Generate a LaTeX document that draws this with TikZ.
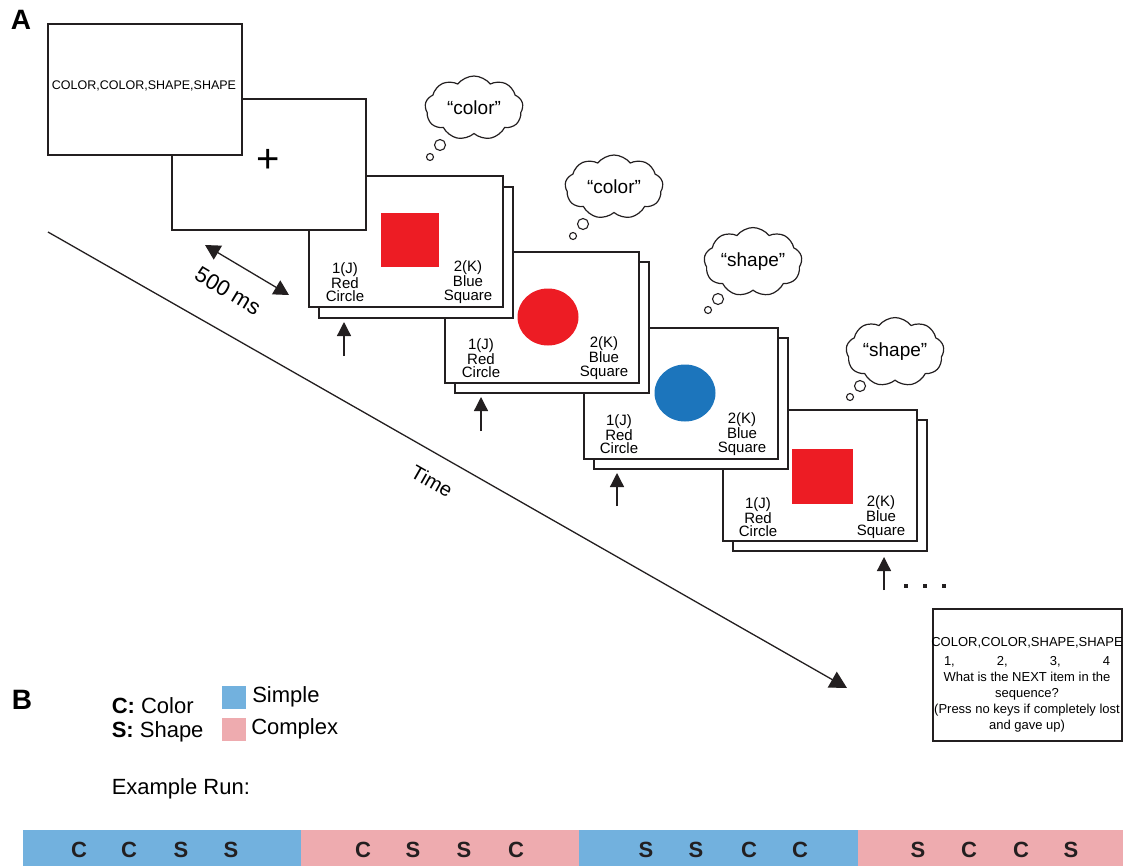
\documentclass[tikz,border=0pt]{standalone}
\usepackage{fontspec}
\setmainfont{Liberation Sans}
\usetikzlibrary{arrows.meta,shapes.symbols,shapes.geometric,positioning}

\definecolor{inkgray}{RGB}{35,31,32}
\definecolor{stimred}{RGB}{237,28,36}
\definecolor{stimblue}{RGB}{28,117,188}
\definecolor{simpleblue}{RGB}{114,177,222}
\definecolor{complexpink}{RGB}{238,171,175}

\newcommand{\keyfont}{\fontsize{15}{13.5}\selectfont}
\newcommand{\legfont}{\fontsize{22}{23}\selectfont}

\tikzset{every picture/.style={line width=1.5pt}}
\tikzset{
  screen/.style={draw=inkgray, fill=white, anchor=north west, minimum width=194, minimum height=131, inner sep=0pt},
  keylab/.style={align=center, font=\keyfont, inner sep=0pt},
  thought/.style={cloud, draw=inkgray, fill=white, line width=1.2pt, cloud puffs=9, cloud puff arc=105, aspect=1.6, minimum width=98, minimum height=64, inner sep=0pt, font=\fontsize{19}{19}\selectfont},
  bubble/.style={circle, draw=inkgray, line width=1.1pt, inner sep=0pt},
  resp/.style={draw=inkgray, line width=1.3pt, -{Triangle[width=14pt,length=14pt]}},
  runletter/.style={font=\fontsize{22}{22}\selectfont\bfseries, text=inkgray, inner sep=0pt},
}

\begin{document}
\begin{tikzpicture}[x=1pt,y=1pt,yscale=-1,xscale=1]
    \useasboundingbox (0,0) rectangle (1123,865);

    % Panel labels
    \node[font=\fontsize{28}{28}\selectfont\bfseries, inner sep=0pt] (labA) at (21,20) {A};
    \node[font=\fontsize{28}{28}\selectfont\bfseries, inner sep=0pt] (labB) at (22,700) {B};

    %Straight Lines: time axis
    \coordinate (time0) at (48,232);
    \coordinate (time1) at (847,688);
    \draw[inkgray, line width=1.3pt, -{Triangle[width=18pt,length=17pt]}] (time0) -- (time1);
    % Text Node
    \node[rotate=-29.7, font=\fontsize{20}{20}\selectfont, inner sep=0pt] (timelab) at (432,481) {Time};

    %Straight Lines: 500 ms interval
    \coordinate (delay0) at (205,245);
    \coordinate (delay1) at (289,295);
    \draw[inkgray, line width=1.3pt, {Triangle[width=16pt,length=15pt]}-{Triangle[width=16pt,length=15pt]}] (delay0) -- (delay1);
    % Text Node
    \node[rotate=-31, font=\fontsize{22}{22}\selectfont, inner sep=0pt] (delaylab) at (228,291) {500 ms};

    %Shape: Rectangle final question screen
    \node[screen, minimum width=189, minimum height=132] (quiz) at (932,608) {};
    % Text Node
    \node[align=center, font=\fontsize{13}{16}\selectfont, inner sep=0pt] (quiztxt) at (1027,685) {COLOR,COLOR,SHAPE,SHAPE\\[3pt]\makebox[166pt]{1,\hfill 2,\hfill 3,\hfill 4}\\What is the NEXT item in the\\sequence?\\(Press no keys if completely lost\\and gave up)};

    %Shape: Screen 6 (red square)
    \node[screen] (s6back) at (732,419) {};
    \node[screen] (s6) at (722,409) {};
    \node[fill=stimred, minimum width=61, minimum height=55, inner sep=0pt] (stim6) at (822,476) {};
    \node[keylab] (j6) at (758,517) {1(J)\\Red\\Circle};
    \node[keylab] (k6) at (881,517) {2(K)\\Blue\\Square};

    %Shape: Screen 5 (blue circle)
    \node[screen] (s5back) at (593,337) {};
    \node[screen] (s5) at (583,327) {};
    \node[ellipse, fill=stimblue, minimum width=61, minimum height=57, inner sep=0pt] (stim5) at (685,393) {};
    \node[keylab] (j5) at (619,434) {1(J)\\Red\\Circle};
    \node[keylab] (k5) at (742,434) {2(K)\\Blue\\Square};

    %Shape: Screen 4 (red circle)
    \node[screen] (s4back) at (454,261) {};
    \node[screen] (s4) at (444,251) {};
    \node[ellipse, fill=stimred, minimum width=61, minimum height=57, inner sep=0pt] (stim4) at (548,317) {};
    \node[keylab] (j4) at (481,358) {1(J)\\Red\\Circle};
    \node[keylab] (k4) at (604,358) {2(K)\\Blue\\Square};

    %Shape: Screen 3 (red square)
    \node[screen] (s3back) at (318,186) {};
    \node[screen] (s3) at (308,175) {};
    \node[fill=stimred, minimum width=58, minimum height=54, inner sep=0pt] (stim3) at (410,240) {};
    \node[keylab] (j3) at (345,282) {1(J)\\Red\\Circle};
    \node[keylab] (k3) at (468,282) {2(K)\\Blue\\Square};

    %Shape: Screen 2 (fixation)
    \node[screen] (s2) at (171,98) {};
    \node[font=\fontsize{40}{40}\selectfont, inner sep=0pt] (fix) at (268,161) {+};

    %Shape: Screen 1 (instruction)
    \node[screen] (s1) at (47,23) {};
    \node[font=\fontsize{12.5}{12.5}\selectfont, inner sep=0pt] (instr) at (144,86) {COLOR,COLOR,SHAPE,SHAPE};

    %Straight Lines: responses
    \coordinate (resp3a) at (344,356);
    \coordinate (resp3b) at (344,322);
    \draw[resp] (resp3a) -- (resp3b);
    \coordinate (resp4a) at (481,431);
    \coordinate (resp4b) at (481,397);
    \draw[resp] (resp4a) -- (resp4b);
    \coordinate (resp5a) at (617,506);
    \coordinate (resp5b) at (617,473);
    \draw[resp] (resp5a) -- (resp5b);
    \coordinate (resp6a) at (884,590);
    \coordinate (resp6b) at (884,557);
    \draw[resp] (resp6a) -- (resp6b);
    % dots
    \node[fill=inkgray, minimum size=4.5, inner sep=0pt] (dot1) at (906,586) {};
    \node[fill=inkgray, minimum size=4.5, inner sep=0pt] (dot2) at (925,586) {};
    \node[fill=inkgray, minimum size=4.5, inner sep=0pt] (dot3) at (944,586) {};

    %Shape: Clouds
    \node[thought] (think3) at (474,108) {``color''};
    \node[bubble, minimum size=11] (puff3a) at (440,145) {};
    \node[bubble, minimum size=7] (puff3b) at (430,157) {};
    \node[thought] (think4) at (614,187) {``color''};
    \node[bubble, minimum size=11] (puff4a) at (583,224) {};
    \node[bubble, minimum size=7] (puff4b) at (573,236) {};
    \node[thought] (think5) at (753,262) {``shape''};
    \node[bubble, minimum size=11] (puff5a) at (718,299) {};
    \node[bubble, minimum size=7] (puff5b) at (708,310) {};
    \node[thought] (think6) at (895,352) {``shape''};
    \node[bubble, minimum size=11] (puff6a) at (860,386) {};
    \node[bubble, minimum size=7] (puff6b) at (850,397) {};

    % Legend
    \node[anchor=base west, font=\legfont, inner sep=0pt] (legC) at (111,713) {\textbf{C:} Color};
    \node[anchor=base west, font=\legfont, inner sep=0pt] (legS) at (111,737) {\textbf{S:} Shape};
    \node[fill=simpleblue, anchor=north west, minimum width=24, minimum height=23, inner sep=0pt] (simplebox) at (221,685) {};
    \node[fill=complexpink, anchor=north west, minimum width=24, minimum height=23, inner sep=0pt] (complexbox) at (221,717) {};
    \node[right=5pt of simplebox, font=\legfont, inner sep=0pt] (simplelab) {Simple};
    \node[right=4pt of complexbox, font=\legfont, inner sep=0pt] (complexlab) {Complex};
    \node[anchor=base west, font=\legfont, inner sep=0pt] (runlab) at (111,794) {Example Run:};

    %Shape: Run bar
    \node[fill=simpleblue, anchor=north west, minimum width=278, minimum height=36, inner sep=0pt] (run1) at (22,829) {};
    \node[fill=complexpink, anchor=north west, minimum width=278, minimum height=36, inner sep=0pt] (run2) at (300,829) {};
    \node[fill=simpleblue, anchor=north west, minimum width=279, minimum height=36, inner sep=0pt] (run3) at (578,829) {};
    \node[fill=complexpink, anchor=north west, minimum width=278, minimum height=36, inner sep=0pt] (run4) at (857,829) {};
    % Text Node
    \node[runletter] (r1) at (79,850) {C};
    \node[runletter] (r2) at (129,850) {C};
    \node[runletter] (r3) at (181,850) {S};
    \node[runletter] (r4) at (231,850) {S};
    \node[runletter] (r5) at (363,850) {C};
    \node[runletter] (r6) at (413,850) {S};
    \node[runletter] (r7) at (464,850) {S};
    \node[runletter] (r8) at (516,850) {C};
    \node[runletter] (r9) at (646,850) {S};
    \node[runletter] (r10) at (696,850) {S};
    \node[runletter] (r11) at (749,850) {C};
    \node[runletter] (r12) at (800,850) {C};
    \node[runletter] (r13) at (918,850) {S};
    \node[runletter] (r14) at (969,850) {C};
    \node[runletter] (r15) at (1021,850) {C};
    \node[runletter] (r16) at (1071,850) {S};

\end{tikzpicture}
\end{document}
